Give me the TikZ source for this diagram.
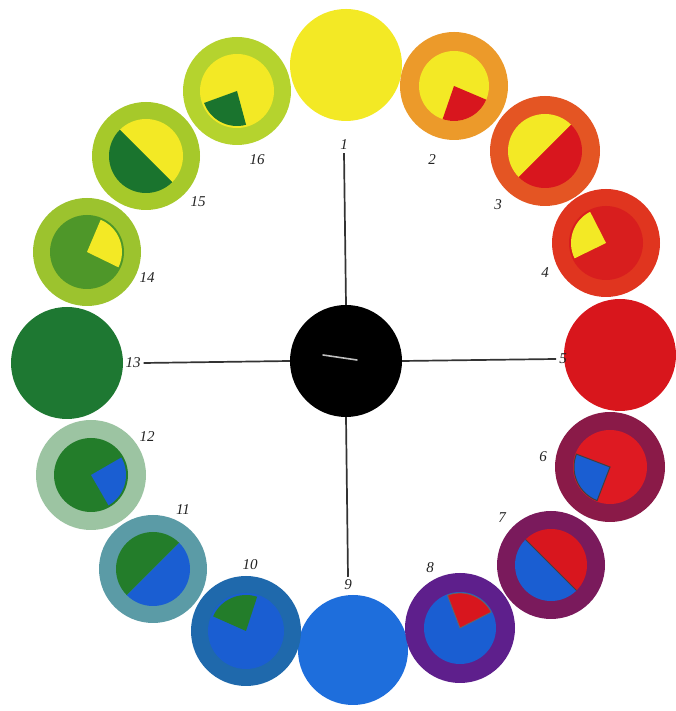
\documentclass[tikz,border=0pt]{standalone}
\usepackage{fontspec}
\setmainfont{Liberation Serif}
\definecolor{yel}{HTML}{F3E925}
\definecolor{orng}{HTML}{EC9A2A}
\definecolor{rd}{HTML}{D8161E}
\definecolor{ringC}{HTML}{E45523}
\definecolor{ringD}{HTML}{E0351F}
\definecolor{redDin}{HTML}{D81E1E}
\definecolor{redE}{HTML}{D8161C}
\definecolor{ringF}{HTML}{8A1A48}
\definecolor{redFin}{HTML}{DE1A22}
\definecolor{ringG}{HTML}{7A1A5C}
\definecolor{ringH}{HTML}{5E1F8C}
\definecolor{blu}{HTML}{1A5ED2}
\definecolor{bluI}{HTML}{1E6EDC}
\definecolor{ringJ}{HTML}{1F69AC}
\definecolor{ringK}{HTML}{5B9BA6}
\definecolor{ringL}{HTML}{9CC4A2}
\definecolor{grn}{HTML}{237D2A}
\definecolor{grnM}{HTML}{1E7832}
\definecolor{ringN}{HTML}{9CC32E}
\definecolor{grnNin}{HTML}{4E9729}
\definecolor{ringO}{HTML}{A6C92A}
\definecolor{ringP}{HTML}{B5D32E}
\definecolor{dgrn}{HTML}{1A742E}
\definecolor{lbl}{HTML}{222222}
\newcommand\mysector[6][]{\fill[#3,#1] (#2.center) -- ++(#4:#6pt) arc[start angle=#4, end angle=#5, radius=#6pt] -- cycle;}
\newcommand\myinner[3]{\fill[#2] (#1.center) circle[radius=#3pt];}
\begin{document}
\begin{tikzpicture}[x=1pt,y=1pt,
  disc/.style={circle, inner sep=0pt, minimum size=#1},
  disc/.default=108pt,
  numlbl/.style={text=lbl, font=\itshape\fontsize{15}{15}\selectfont, inner sep=3pt},
  spoke/.style={draw=black!80, line width=1.7pt}]
\useasboundingbox (0,0) rectangle (675,711);
\fill[white] (0,0) rectangle (675,711);

% solid discs
\node[disc=112pt, fill=yel] (c1) at (346,646) {};
\node[disc=112pt, fill=redE] (c5) at (620,356) {};
\node[disc=110pt, fill=bluI] (c9) at (353,61) {};
\node[disc=112pt, fill=grnM] (c13) at (67,348) {};
\node[disc=112pt, fill=black] (hub) at (346,350) {};

% ringed discs
\node[disc, fill=orng] (c2) at (454,625) {};
\node[disc=110pt, fill=ringC] (c3) at (545,560) {};
\node[disc, fill=ringD] (c4) at (606,468) {};
\node[disc=110pt, fill=ringF] (c6) at (610,244) {};
\node[disc, fill=ringG] (c7) at (551,146) {};
\node[disc=110pt, fill=ringH] (c8) at (460,83) {};
\node[disc=110pt, fill=ringJ] (c10) at (246,80) {};
\node[disc, fill=ringK] (c11) at (153,142) {};
\node[disc=110pt, fill=ringL] (c12) at (91,236) {};
\node[disc, fill=ringN] (c14) at (87,459) {};
\node[disc, fill=ringO] (c15) at (146,555) {};
\node[disc, fill=ringP] (c16) at (237,620) {};

% inner parts
\myinner{c2}{yel}{35}
\mysector{c2}{rd}{-109}{-23}{35}

\mysector{c3}{yel}{45}{225}{37}
\mysector{c3}{rd}{225}{405}{37}

\myinner{c4}{redDin}{37}
\mysector{c4}{yel}{117}{206}{35}

\myinner{c6}{redFin}{37}
\mysector[draw=black!75, line width=1pt]{c6}{blu}{159}{249}{36}

\mysector{c7}{rd}{-45}{135}{36}
\mysector{c7}{blu}{135}{315}{36}
\draw[black!75, line width=1pt] (c7.center) ++(135:36pt) -- ++(-45:72pt);

\myinner{c8}{blu}{36}
\mysector[draw=black!60, line width=0.8pt]{c8}{rd}{27}{111}{35}

\myinner{c10}{blu}{38}
\mysector{c10}{grn}{72}{156}{36}

\mysector{c11}{grn}{45}{225}{37}
\mysector{c11}{blu}{225}{405}{37}

\myinner{c12}{grn}{37}
\mysector{c12}{blu}{-60}{30}{35}

\myinner{c14}{grnNin}{37}
\mysector{c14}{yel}{-26}{67}{35}

\mysector{c15}{yel}{-45}{135}{37}
\mysector{c15}{dgrn}{135}{315}{37}

\myinner{c16}{yel}{37}
\mysector{c16}{dgrn}{200}{285}{35}

% highlight on hub
\draw[black!25, line width=1.6pt, line cap=round] (323,356) -- (357,351);

% labels
\node[numlbl] (l1) at (344,566) {1};
\node[numlbl] (l2) at (432,551) {2};
\node[numlbl] (l3) at (498,506) {3};
\node[numlbl] (l4) at (545,438) {4};
\node[numlbl] (l5) at (563,352) {5};
\node[numlbl] (l6) at (543,254) {6};
\node[numlbl] (l7) at (502,193) {7};
\node[numlbl] (l8) at (430,143) {8};
\node[numlbl] (l9) at (348,126) {9};
\node[numlbl] (l10) at (250,146) {10};
\node[numlbl] (l11) at (183,201) {11};
\node[numlbl] (l12) at (147,274) {12};
\node[numlbl] (l13) at (133,348) {13};
\node[numlbl] (l14) at (147,433) {14};
\node[numlbl] (l15) at (198,509) {15};
\node[numlbl] (l16) at (257,551) {16};

% spokes
\draw[spoke] (hub.north) -- (l1.south);
\draw[spoke] (hub.east) -- (l5.west);
\draw[spoke] (hub.south) -- (l9.north);
\draw[spoke] (hub.west) -- (l13.east);
\end{tikzpicture}
\end{document}
